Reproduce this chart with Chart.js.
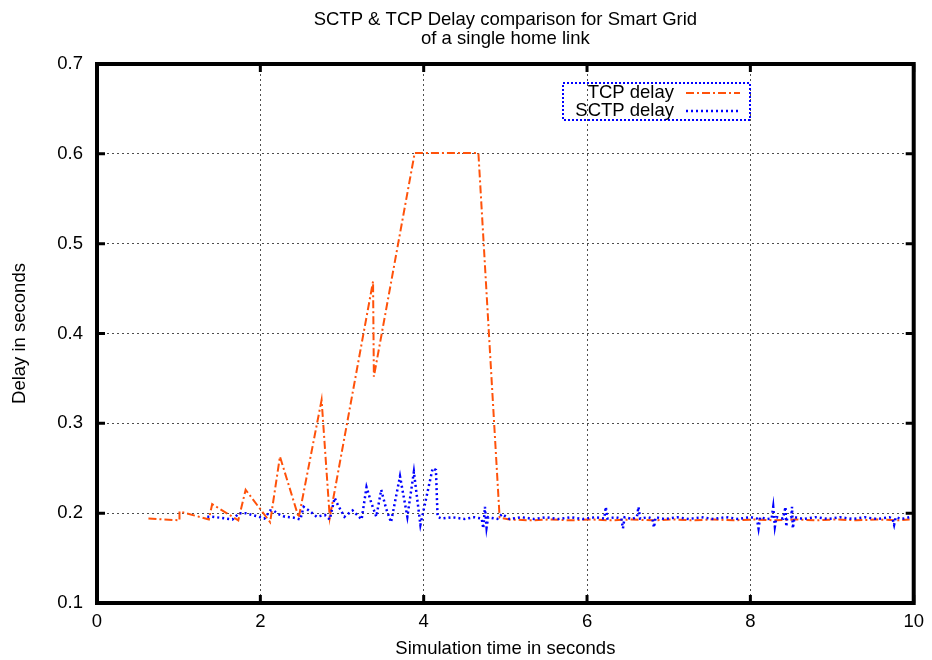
<!DOCTYPE html>
<html>
<head>
<meta charset="utf-8">
<title>SCTP & TCP Delay comparison</title>
<script src="https://cdn.jsdelivr.net/npm/chart.js@4.4.1/dist/chart.umd.min.js"></script>
<style>
    body { margin: 0; background: #fff; }
    #wrap { width: 932px; height: 660px; }
</style>
</head>
<body>
<div id="wrap"><canvas id="delay-chart" width="932" height="660"></canvas></div>
<script>
var chartTitle = ['SCTP & TCP Delay comparison for Smart Grid', 'of a single home link'];
var xTitle = 'Simulation time in seconds';
var yTitle = 'Delay in seconds';
var xTicks = [0, 2, 4, 6, 8, 10];
var yTicks = [0.1, 0.2, 0.3, 0.4, 0.5, 0.6, 0.7];

// TCP delay
var tcpTime = [0.63, 1.01, 1.01, 1.37, 1.41, 1.73, 1.82, 2.12, 2.24, 2.47, 2.75, 2.85, 3.38, 3.39, 3.89, 4.67, 4.93,
    5.05, 5.3, 5.55, 5.8, 6.05, 6.3, 6.55, 6.8, 7.05, 7.3, 7.55, 7.8, 8.05, 8.3, 8.55, 8.8, 9.05, 9.3, 9.55, 9.8, 9.95];
var tcpDelay = [0.194, 0.192, 0.202, 0.193, 0.210, 0.192, 0.226, 0.190, 0.263, 0.195, 0.326, 0.195, 0.458, 0.352, 0.601, 0.601, 0.195,
    0.193, 0.192, 0.193, 0.192, 0.193, 0.192, 0.193, 0.192, 0.193, 0.192, 0.193, 0.192, 0.193, 0.192, 0.193, 0.192, 0.193, 0.192, 0.193, 0.192, 0.193];

// SCTP delay
var sctpTime = [1.35, 1.41, 1.50, 1.58, 1.66, 1.74, 1.82, 1.90, 1.98, 2.05, 2.12, 2.16, 2.22, 2.30, 2.41, 2.49, 2.53, 2.61, 2.69,
    2.79, 2.85, 2.91, 2.95, 3.03, 3.13, 3.24, 3.30, 3.36, 3.42, 3.48, 3.54, 3.60, 3.71, 3.80, 3.88, 3.96, 4.11, 4.15, 4.17,
    4.22, 4.35, 4.50, 4.62, 4.71, 4.73, 4.75, 4.77, 4.79, 4.90, 4.96, 5.05, 5.20, 5.35, 5.50, 5.65, 5.80, 5.95, 6.10,
    6.21, 6.23, 6.25, 6.35, 6.42, 6.44, 6.46, 6.55, 6.61, 6.63, 6.65, 6.75, 6.80, 6.82, 6.84, 6.95, 7.10, 7.25, 7.40,
    7.55, 7.70, 7.85, 8.00, 8.08, 8.10, 8.12, 8.20, 8.26, 8.28, 8.30, 8.32, 8.40, 8.43, 8.44, 8.45, 8.50, 8.51, 8.52,
    8.54, 8.65, 8.80, 8.95, 9.10, 9.25, 9.40, 9.55, 9.70, 9.74, 9.76, 9.78, 9.85, 9.95];
var sctpDelay = [0.196, 0.196, 0.195, 0.194, 0.193, 0.200, 0.200, 0.198, 0.196, 0.194, 0.203, 0.203, 0.199, 0.196, 0.195, 0.193, 0.207, 0.202, 0.196,
    0.198, 0.193, 0.217, 0.209, 0.196, 0.203, 0.193, 0.229, 0.211, 0.196, 0.226, 0.205, 0.190, 0.241, 0.196, 0.246, 0.187, 0.250, 0.248, 0.196,
    0.194, 0.1955, 0.1935, 0.1955, 0.194, 0.183, 0.207, 0.184, 0.1955, 0.1935, 0.199, 0.1935, 0.1955, 0.1935, 0.1955, 0.1935, 0.1955, 0.1935, 0.1955,
    0.194, 0.207, 0.194, 0.1955, 0.194, 0.183, 0.1955, 0.1935, 0.1955, 0.207, 0.194, 0.1955, 0.194, 0.184, 0.1955, 0.1935, 0.1955, 0.1935, 0.1955,
    0.1935, 0.1955, 0.1935, 0.1955, 0.194, 0.183, 0.1955, 0.1935, 0.194, 0.207, 0.185, 0.1955, 0.194, 0.207, 0.185, 0.194, 0.1955, 0.207, 0.183,
    0.1955, 0.1935, 0.1955, 0.1935, 0.1955, 0.1935, 0.1955, 0.1935, 0.1955, 0.194, 0.187, 0.1955, 0.1935, 0.1955];

var tcpColor = '#ff520a';
var sctpColor = '#0000ff';
var fontFamily = "'Liberation Sans', Arial, Helvetica, sans-serif";

function toPoints(xs, ys) {
    var pts = [];
    xs.forEach(function (x, i) {
        pts.push({ x: x, y: ys[i] });
    });
    return pts;
}

// gnuplot style frame: thick border, inward ticks and boxed legend
var framePlugin = {
    id: 'frame',
    afterDraw: function (chart) {
        var ctx = chart.ctx;
        var area = chart.chartArea;
        var xs = chart.scales.x;
        var ys = chart.scales.y;
        ctx.save();
        ctx.strokeStyle = '#000';
        ctx.lineWidth = 3;
        xTicks.forEach(function (t) {
            var px = xs.getPixelForValue(t);
            ctx.beginPath();
            ctx.moveTo(px, area.bottom); ctx.lineTo(px, area.bottom - 8);
            ctx.moveTo(px, area.top); ctx.lineTo(px, area.top + 8);
            ctx.stroke();
        });
        yTicks.forEach(function (t) {
            var py = ys.getPixelForValue(t);
            ctx.beginPath();
            ctx.moveTo(area.left, py); ctx.lineTo(area.left + 8, py);
            ctx.moveTo(area.right, py); ctx.lineTo(area.right - 8, py);
            ctx.stroke();
        });
        ctx.lineWidth = 4;
        ctx.strokeRect(area.left, area.top, area.right - area.left, area.bottom - area.top);

        // legend
        ctx.lineWidth = 2;
        ctx.strokeStyle = sctpColor;
        ctx.setLineDash([2, 2]);
        ctx.strokeRect(563, 83, 187, 37);
        ctx.font = '18.5px ' + fontFamily;
        ctx.fillStyle = '#000';
        ctx.textAlign = 'right';
        ctx.textBaseline = 'middle';
        chart.data.datasets.slice().reverse().forEach(function (ds, i) {
            var y = 93 + i * 18;
            ctx.fillText(ds.label, 674, y);
            ctx.strokeStyle = ds.borderColor;
            ctx.lineWidth = ds.borderWidth;
            ctx.setLineDash(ds.borderDash);
            ctx.beginPath();
            ctx.moveTo(686, y); ctx.lineTo(740, y);
            ctx.stroke();
        });
        ctx.restore();
    }
};

function DrawDelayChart() {
    var ctx = document.getElementById('delay-chart').getContext('2d');
    var myChart = new Chart(ctx, {
        type: 'line',
        data: {
            datasets: [
            {
                label: 'SCTP delay',
                data: toPoints(sctpTime, sctpDelay),
                borderColor: sctpColor,
                borderWidth: 2.5,
                borderDash: [2, 3],
                pointRadius: 0,
                fill: false
            },
            {
                label: 'TCP delay',
                data: toPoints(tcpTime, tcpDelay),
                borderColor: tcpColor,
                borderWidth: 2,
                borderDash: [8, 3, 2, 3],
                pointRadius: 0,
                fill: false
            }
            ]
        },
        options: {
            responsive: false,
            animation: false,
            layout: { padding: { left: 0, right: 12, top: 0, bottom: 0 } },
            plugins: {
                legend: { display: false },
                tooltip: { enabled: false },
                title: {
                    display: true,
                    fullSize: false,
                    text: chartTitle,
                    color: '#000',
                    font: { family: fontFamily, size: 18.5, weight: 'normal', lineHeight: 1.0 },
                    padding: { top: 11, bottom: 16 }
                }
            },
            scales: {
                x: {
                    type: 'linear',
                    min: 0,
                    max: 10,
                    afterFit: function (scale) { scale.height = 57; },
                    afterBuildTicks: function (scale) {
                        scale.ticks = xTicks.map(function (v) { return { value: v }; });
                    },
                    ticks: {
                        color: '#000',
                        padding: 8,
                        maxRotation: 0,
                        font: { family: fontFamily, size: 18.5 }
                    },
                    grid: { color: 'rgba(60,60,60,0.9)', lineWidth: 1, drawTicks: false },
                    border: { display: false, dash: [2, 3] },
                    title: {
                        display: true,
                        text: xTitle,
                        color: '#000',
                        font: { family: fontFamily, size: 18.5 },
                        padding: { top: 0, bottom: 0 }
                    }
                },
                y: {
                    min: 0.1,
                    max: 0.7,
                    afterFit: function (scale) { scale.width = 97; },
                    afterBuildTicks: function (scale) {
                        scale.ticks = yTicks.map(function (v) { return { value: v }; });
                    },
                    ticks: {
                        color: '#000',
                        padding: 14,
                        font: { family: fontFamily, size: 18.5 },
                        callback: function (v) { return v.toFixed(1); }
                    },
                    grid: { color: 'rgba(60,60,60,0.9)', lineWidth: 1, drawTicks: false },
                    border: { display: false, dash: [2, 3] },
                    title: {
                        display: true,
                        text: yTitle,
                        color: '#000',
                        font: { family: fontFamily, size: 18.5 },
                        padding: { top: 9, bottom: 0 }
                    }
                }
            }
        },
        plugins: [framePlugin]
    });
}

DrawDelayChart();
</script>
</body>
</html>
